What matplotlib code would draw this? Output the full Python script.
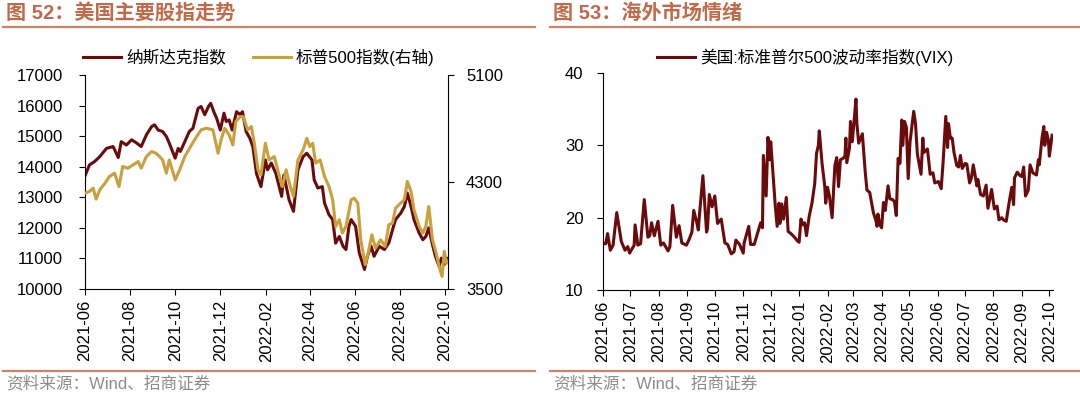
import pandas as pd
import matplotlib
matplotlib.use('Agg')
import matplotlib.pyplot as plt
import matplotlib.dates as mdates
from matplotlib.lines import Line2D

plt.rcParams['font.family'] = ['Liberation Sans', 'Noto Sans CJK SC', 'DejaVu Sans']
plt.rcParams['axes.unicode_minus'] = False

# 纳斯达克指数 (左轴)
nasdaq_dates = [
    '2021-06-01', '2021-06-07', '2021-06-14', '2021-06-21', '2021-06-30', '2021-07-09',
    '2021-07-16', '2021-07-20', '2021-07-27', '2021-08-03', '2021-08-09', '2021-08-16',
    '2021-08-23', '2021-08-30', '2021-09-03', '2021-09-08', '2021-09-14', '2021-09-19',
    '2021-09-23', '2021-10-01', '2021-10-05', '2021-10-08', '2021-10-14', '2021-10-20',
    '2021-10-25', '2021-11-01', '2021-11-05', '2021-11-10', '2021-11-15', '2021-11-18',
    '2021-11-23', '2021-11-26', '2021-12-01', '2021-12-06', '2021-12-09', '2021-12-13',
    '2021-12-17', '2021-12-23', '2021-12-28', '2021-12-31', '2022-01-05', '2022-01-10',
    '2022-01-14', '2022-01-19', '2022-01-25', '2022-01-31', '2022-02-03', '2022-02-08',
    '2022-02-14', '2022-02-22', '2022-02-25', '2022-03-04', '2022-03-10', '2022-03-16',
    '2022-03-23', '2022-03-28', '2022-04-04', '2022-04-07', '2022-04-12', '2022-04-18',
    '2022-04-21', '2022-04-27', '2022-05-02', '2022-05-06', '2022-05-11', '2022-05-16',
    '2022-05-20', '2022-05-24', '2022-05-27', '2022-06-02', '2022-06-07', '2022-06-14',
    '2022-06-18', '2022-06-23', '2022-06-27', '2022-07-04', '2022-07-11', '2022-07-17',
    '2022-07-22', '2022-07-26', '2022-08-02', '2022-08-07', '2022-08-11', '2022-08-16',
    '2022-08-20', '2022-08-27', '2022-09-01', '2022-09-05', '2022-09-09', '2022-09-14',
    '2022-09-18', '2022-09-23', '2022-09-26', '2022-09-30', '2022-10-03']
nasdaq = [
    13700, 14060, 14170, 14330, 14600, 14660,
    14300, 14820, 14710, 14880, 14790, 14660,
    15040, 15310, 15370, 15200, 15150, 14990,
    14770, 14280, 14600, 14500, 14820, 15150,
    15260, 15910, 15970, 15700, 15970, 16075,
    15750, 15590, 15200, 15750, 15480, 15530,
    15200, 15800, 15700, 15800, 15150, 14930,
    14660, 13770, 13350, 14220, 13900, 14120,
    13790, 13030, 13730, 12920, 12540, 13900,
    14330, 14440, 14220, 13570, 13300, 13350,
    12810, 12430, 12270, 11500, 11720, 11400,
    11290, 12050, 12270, 12050, 11180, 10640,
    11070, 11400, 11070, 11400, 11290, 11510,
    11940, 12270, 12480, 12700, 13140, 12700,
    12270, 11830, 11610, 11720, 12000, 11450,
    11070, 10740, 11010, 10800, 11010]

# 标普500指数 (右轴)
spx_dates = [
    '2021-06-01', '2021-06-07', '2021-06-12', '2021-06-16', '2021-06-21', '2021-06-28',
    '2021-07-04', '2021-07-11', '2021-07-17', '2021-07-22', '2021-07-29', '2021-08-05',
    '2021-08-12', '2021-08-16', '2021-08-23', '2021-08-30', '2021-09-05', '2021-09-10',
    '2021-09-14', '2021-09-19', '2021-09-23', '2021-10-01', '2021-10-07', '2021-10-14',
    '2021-10-23', '2021-10-30', '2021-11-05', '2021-11-12', '2021-11-21', '2021-11-28',
    '2021-12-02', '2021-12-07', '2021-12-13', '2021-12-18', '2021-12-22', '2021-12-28',
    '2022-01-01', '2022-01-07', '2022-01-12', '2022-01-16', '2022-01-21', '2022-01-25',
    '2022-01-31', '2022-02-05', '2022-02-12', '2022-02-19', '2022-02-23', '2022-02-28',
    '2022-03-05', '2022-03-10', '2022-03-16', '2022-03-23', '2022-03-28', '2022-04-01',
    '2022-04-05', '2022-04-09', '2022-04-15', '2022-04-21', '2022-04-27', '2022-05-02',
    '2022-05-06', '2022-05-11', '2022-05-15', '2022-05-20', '2022-05-27', '2022-05-31',
    '2022-06-05', '2022-06-09', '2022-06-15', '2022-06-19', '2022-06-24', '2022-06-29',
    '2022-07-06', '2022-07-12', '2022-07-17', '2022-07-22', '2022-07-26', '2022-08-02',
    '2022-08-07', '2022-08-11', '2022-08-16', '2022-08-20', '2022-08-27', '2022-09-01',
    '2022-09-05', '2022-09-09', '2022-09-14', '2022-09-19', '2022-09-23', '2022-09-27',
    '2022-09-30', '2022-10-03']
spx = [
    4217, 4229, 4254, 4172, 4242, 4291,
    4341, 4366, 4266, 4416, 4403, 4428,
    4453, 4403, 4490, 4528, 4515, 4490,
    4465, 4366, 4465, 4316, 4391, 4490,
    4577, 4640, 4690, 4702, 4690, 4515,
    4615, 4702, 4652, 4577, 4752, 4789,
    4789, 4690, 4715, 4590, 4391, 4353,
    4590, 4465, 4490, 4341, 4266, 4391,
    4279, 4192, 4465, 4540, 4627, 4565,
    4590, 4441, 4465, 4341, 4266, 4167,
    3968, 4018, 3918, 3968, 4167, 4179,
    4142, 3868, 3682, 3769, 3905, 3806,
    3868, 3818, 3980, 3993, 4104, 4142,
    4167, 4304, 4229, 4092, 3968, 3918,
    3968, 4117, 3868, 3769, 3669, 3594,
    3781, 3694]

# 美国:标准普尔500波动率指数(VIX)
vix_dates = [
    '2021-06-01', '2021-06-04', '2021-06-06', '2021-06-09', '2021-06-12', '2021-06-16',
    '2021-06-21', '2021-06-25', '2021-06-28', '2021-06-30', '2021-07-05', '2021-07-06',
    '2021-07-09', '2021-07-12', '2021-07-16', '2021-07-20', '2021-07-22', '2021-07-24',
    '2021-07-27', '2021-07-31', '2021-08-03', '2021-08-06', '2021-08-11', '2021-08-13',
    '2021-08-16', '2021-08-20', '2021-08-23', '2021-08-26', '2021-08-31', '2021-09-03',
    '2021-09-06', '2021-09-08', '2021-09-11', '2021-09-13', '2021-09-14', '2021-09-18',
    '2021-09-22', '2021-09-23', '2021-09-25', '2021-09-28', '2021-10-01', '2021-10-04',
    '2021-10-08', '2021-10-12', '2021-10-15', '2021-10-19', '2021-10-22', '2021-10-24',
    '2021-10-28', '2021-11-01', '2021-11-02', '2021-11-07', '2021-11-09', '2021-11-13',
    '2021-11-17', '2021-11-20', '2021-11-22', '2021-11-23', '2021-11-26', '2021-11-28',
    '2021-11-30', '2021-12-01', '2021-12-03', '2021-12-06', '2021-12-08', '2021-12-10',
    '2021-12-11', '2021-12-13', '2021-12-15', '2021-12-18', '2021-12-20', '2021-12-23',
    '2021-12-27', '2021-12-30', '2022-01-01', '2022-01-03', '2022-01-05', '2022-01-07',
    '2022-01-09', '2022-01-12', '2022-01-15', '2022-01-18', '2022-01-20', '2022-01-22',
    '2022-01-23', '2022-01-26', '2022-01-29', '2022-01-30', '2022-02-01', '2022-02-03',
    '2022-02-06', '2022-02-09', '2022-02-11', '2022-02-13', '2022-02-15', '2022-02-18',
    '2022-02-20', '2022-02-21', '2022-02-22', '2022-02-25', '2022-02-26', '2022-02-28',
    '2022-03-04', '2022-03-05', '2022-03-07', '2022-03-11', '2022-03-14', '2022-03-16',
    '2022-03-19', '2022-03-23', '2022-03-26', '2022-03-27', '2022-03-28', '2022-03-30',
    '2022-04-01', '2022-04-03', '2022-04-05', '2022-04-08', '2022-04-10', '2022-04-13',
    '2022-04-15', '2022-04-17', '2022-04-19', '2022-04-21', '2022-04-23', '2022-04-24',
    '2022-04-26', '2022-04-28', '2022-04-30', '2022-05-02', '2022-05-06', '2022-05-08',
    '2022-05-10', '2022-05-14', '2022-05-16', '2022-05-17', '2022-05-21', '2022-05-24',
    '2022-05-27', '2022-05-29', '2022-06-02', '2022-06-05', '2022-06-07', '2022-06-10',
    '2022-06-12', '2022-06-13', '2022-06-15', '2022-06-17', '2022-06-19', '2022-06-22',
    '2022-06-24', '2022-06-26', '2022-06-28', '2022-07-01', '2022-07-03', '2022-07-06',
    '2022-07-08', '2022-07-10', '2022-07-14', '2022-07-15', '2022-07-18', '2022-07-21',
    '2022-07-24', '2022-07-26', '2022-07-30', '2022-08-02', '2022-08-05', '2022-08-07',
    '2022-08-10', '2022-08-12', '2022-08-15', '2022-08-18', '2022-08-21', '2022-08-23',
    '2022-08-24', '2022-08-27', '2022-08-30', '2022-09-01', '2022-09-03', '2022-09-05',
    '2022-09-08', '2022-09-10', '2022-09-13', '2022-09-17', '2022-09-19', '2022-09-20',
    '2022-09-23', '2022-09-25', '2022-09-26', '2022-09-28', '2022-09-30', '2022-10-01',
    '2022-10-04']
vix = [
    16.4, 16.4, 17.8, 15.5, 16.2, 20.7,
    16.7, 15.5, 16.0, 15.1, 16.2, 19.0,
    16.2, 16.4, 22.5, 17.3, 17.5, 19.3,
    17.5, 19.5, 16.2, 16.5, 15.4, 16.0,
    21.7, 17.3, 18.9, 16.5, 16.2, 17.0,
    18.0, 21.0, 19.5, 18.3, 20.0, 25.8,
    18.0, 18.5, 23.2, 21.5, 23.0, 19.2,
    19.8, 16.5, 16.3, 15.0, 15.3, 16.9,
    16.3, 15.1, 16.5, 18.8, 16.3, 16.3,
    18.0, 19.3, 18.6, 28.6, 23.0, 31.1,
    28.0, 30.5, 27.0, 21.6, 18.8, 22.0,
    19.2, 21.9, 19.8, 22.8, 18.1, 17.8,
    17.3, 16.8, 16.6, 19.8, 19.0, 19.3,
    17.5, 20.2, 22.0, 24.7, 28.9, 30.0,
    32.0, 27.5, 24.3, 22.0, 24.2, 23.0,
    20.0, 27.2, 28.3, 24.3, 28.0, 28.2,
    28.5, 31.0, 27.6, 29.7, 33.3, 30.5,
    36.4, 33.0, 30.3, 31.6, 26.5, 23.8,
    23.5, 20.7, 19.5, 18.8, 20.5, 19.0,
    18.6, 22.1, 21.0, 24.4, 22.6, 22.5,
    22.2, 20.3, 28.2, 27.5, 33.5, 30.0,
    33.3, 32.5, 25.4, 30.5, 34.7, 33.0,
    28.8, 26.0, 31.0, 29.0, 29.5, 26.0,
    26.2, 24.8, 25.0, 24.0, 27.5, 34.0,
    29.7, 33.0, 31.0, 31.0, 29.0, 27.2,
    27.0, 28.6, 26.8, 27.5, 27.4, 24.8,
    25.5, 27.3, 24.4, 25.3, 23.2, 23.0,
    24.5, 21.3, 23.9, 21.2, 21.6, 19.7,
    20.0, 19.7, 19.5, 22.0, 24.2, 21.8,
    25.5, 26.3, 25.8, 25.7, 27.0, 23.0,
    23.8, 27.3, 26.2, 25.9, 28.0, 27.3,
    31.0, 32.6, 30.0, 31.8, 30.7, 28.5,
    31.4]

maroon = '#6B0A0A'
gold = '#C9A03C'
title_color = '#C2694A'
rule_color = '#CD8466'
source_color = '#8C8C8C'

W, H = 1080, 398
fig = plt.figure(figsize=(W / 100, H / 100), dpi=100)


def fx(px):
    return px / W


def fy(py):
    return 1 - py / H


def style_axis(ax, months):
    ax.xaxis.set_major_locator(mdates.MonthLocator(bymonth=months))
    ax.xaxis.set_major_formatter(mdates.DateFormatter('%Y-%m'))
    ax.tick_params(axis='x', labelrotation=90, labelsize=12, length=4, width=0.8, pad=4)
    ax.tick_params(axis='y', labelsize=12, length=4, width=0.8, pad=12)
    for s in ['top', 'right']:
        ax.spines[s].set_visible(False)
    for s in ['left', 'bottom']:
        ax.spines[s].set_linewidth(0.8)


def header(x0, x1, title):
    fig.text(fx(x0 + 3), fy(13), title, fontsize=14.5, fontweight='bold',
             color=title_color, va='center', ha='left')
    fig.add_artist(Line2D([fx(x0), fx(x1)], [fy(27), fy(27)], color=rule_color, lw=1.6))
    fig.add_artist(Line2D([fx(x0), fx(x1)], [fy(371), fy(371)], color=rule_color, lw=1.6))
    fig.text(fx(x0 + 3), fy(384), '资料来源：Wind、招商证券', fontsize=12,
             color=source_color, va='center', ha='left')


# 左图
nd = pd.to_datetime(nasdaq_dates)
sd = pd.to_datetime(spx_dates)
ax1 = fig.add_axes([fx(85), fy(289), fx(448 - 85), (289 - 75) / H])
l1, = ax1.plot(nd, nasdaq, color=maroon, lw=2.2, label='纳斯达克指数')
ax1.set_ylim(10000, 17000)
ax1.set_yticks(range(10000, 17001, 1000))
ax1.set_xlim(pd.Timestamp('2021-06-01'), pd.Timestamp('2022-10-05'))
style_axis(ax1, [2, 4, 6, 8, 10, 12])

ax1r = ax1.twinx()
l2, = ax1r.plot(sd, spx, color=gold, lw=2.2, label='标普500指数(右轴)')
ax1r.set_ylim(3500, 5100)
ax1r.set_yticks([3500, 4300, 5100])
ax1r.tick_params(axis='y', labelsize=12, length=4, width=0.8, pad=9)
ax1r.spines['top'].set_visible(False)
ax1r.spines['right'].set_linewidth(0.8)
ax1r.spines['left'].set_visible(False)
ax1r.spines['bottom'].set_visible(False)

ax1r.legend(handles=[l1, l2], loc='center left', bbox_to_anchor=(fx(83), fy(57)),
            bbox_transform=fig.transFigure, ncol=2, frameon=False, fontsize=12,
            handlelength=2.3, handletextpad=0.3, columnspacing=1.6,
            borderpad=0, borderaxespad=0)

header(3, 535, '图 52：美国主要股指走势')

# 右图
vd = pd.to_datetime(vix_dates)
ax2 = fig.add_axes([fx(603), fy(290), fx(1053 - 603), (290 - 73) / H])
l3, = ax2.plot(vd, vix, color=maroon, lw=2.2, label='美国:标准普尔500波动率指数(VIX)')
ax2.set_ylim(10, 40)
ax2.set_yticks([10, 20, 30, 40])
ax2.set_xlim(pd.Timestamp('2021-06-01'), pd.Timestamp('2022-10-05'))
style_axis(ax2, list(range(1, 13)))
ax2.tick_params(axis='y', pad=10)
ax2.legend(handles=[l3], loc='center left', bbox_to_anchor=(fx(657), fy(57)),
           bbox_transform=fig.transFigure, frameon=False, fontsize=12,
           handlelength=2.3, handletextpad=0.3, borderpad=0, borderaxespad=0)

header(550, 1080, '图 53：海外市场情绪')

fig.savefig('out.png', dpi=100)
